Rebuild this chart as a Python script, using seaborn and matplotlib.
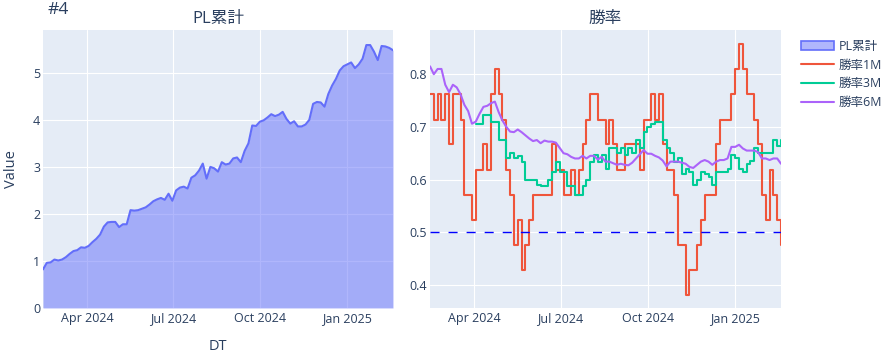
#!/usr/bin/env python3
"""
#4 PL累計 と 勝率 (1M / 3M / 6M) のチャート
"""

import numpy as np
import pandas as pd
import matplotlib
matplotlib.use('Agg')
import matplotlib.pyplot as plt
import matplotlib.dates as mdates
from matplotlib.ticker import MultipleLocator, StrMethodFormatter
from matplotlib.patches import Patch
from matplotlib.lines import Line2D
import seaborn as sns

# 期間 (約4日おきのサンプル)
START_DATE = '2024-02-14'
END_DATE = '2025-02-19'

# PL累計
pl_cum = [
    0.82, 0.96, 0.97, 1.03, 1.01, 1.03, 1.08, 1.15, 1.21, 1.23,
    1.29, 1.28, 1.32, 1.40, 1.47, 1.56, 1.73, 1.82, 1.83, 1.83,
    1.72, 1.78, 1.78, 2.08, 2.07, 2.08, 2.11, 2.14, 2.20, 2.27,
    2.31, 2.34, 2.30, 2.43, 2.28, 2.50, 2.56, 2.58, 2.54, 2.77,
    2.82, 2.92, 3.07, 2.75, 3.00, 2.97, 2.90, 3.10, 3.05, 3.07,
    3.18, 3.20, 3.10, 3.34, 3.50, 3.88, 3.87, 3.96, 3.99, 4.05,
    4.12, 4.08, 4.11, 4.17, 4.02, 3.92, 3.97, 3.86, 3.86, 3.90,
    4.00, 4.34, 4.38, 4.37, 4.28, 4.55, 4.73, 4.87, 5.05, 5.14,
    5.18, 5.22, 5.10, 5.18, 5.30, 5.59, 5.59, 5.45, 5.27, 5.57,
    5.56, 5.53, 5.48,
]

# 勝率1M
win_1m = [
    0.762, 0.714, 0.762, 0.714, 0.762, 0.667, 0.762, 0.762, 0.714, 0.571,
    0.571, 0.524, 0.619, 0.619, 0.667, 0.619, 0.762, 0.810, 0.762, 0.714,
    0.619, 0.571, 0.476, 0.524, 0.429, 0.476, 0.524, 0.571, 0.571, 0.571,
    0.571, 0.571, 0.667, 0.619, 0.619, 0.571, 0.571, 0.619, 0.571, 0.619,
    0.667, 0.714, 0.762, 0.762, 0.714, 0.714, 0.667, 0.714, 0.667, 0.619,
    0.619, 0.667, 0.667, 0.667, 0.667, 0.619, 0.714, 0.714, 0.762, 0.714,
    0.762, 0.667, 0.619, 0.619, 0.571, 0.476, 0.476, 0.381, 0.429, 0.429,
    0.476, 0.524, 0.571, 0.571, 0.571, 0.667, 0.714, 0.714, 0.714, 0.762,
    0.810, 0.857, 0.810, 0.762, 0.762, 0.714, 0.667, 0.571, 0.524, 0.619,
    0.571, 0.524, 0.476,
]

# 勝率3M (最初の3ヶ月は値なし)
win_3m = [np.nan] * 12 + [
    0.706, 0.706, 0.722, 0.722, 0.709, 0.709, 0.675, 0.675,
    0.640, 0.650, 0.640, 0.645, 0.634, 0.600, 0.600, 0.600, 0.590, 0.587,
    0.587, 0.600, 0.615, 0.634, 0.615, 0.615, 0.587, 0.587, 0.571, 0.571,
    0.587, 0.600, 0.634, 0.647, 0.634, 0.647, 0.620, 0.660, 0.660, 0.650,
    0.660, 0.647, 0.660, 0.650, 0.675, 0.660, 0.690, 0.700, 0.705, 0.710,
    0.710, 0.675, 0.660, 0.650, 0.634, 0.640, 0.610, 0.620, 0.615, 0.590,
    0.600, 0.615, 0.610, 0.605, 0.590, 0.615, 0.615, 0.615, 0.620, 0.647,
    0.640, 0.620, 0.615, 0.630, 0.635, 0.660, 0.650, 0.650, 0.650, 0.650,
    0.675, 0.663, 0.675,
]

# 勝率6M
win_6m = [
    0.815, 0.800, 0.810, 0.810, 0.780, 0.766, 0.780, 0.775, 0.762, 0.742,
    0.730, 0.706, 0.710, 0.725, 0.738, 0.740, 0.745, 0.748, 0.728, 0.712,
    0.700, 0.691, 0.690, 0.695, 0.690, 0.684, 0.678, 0.673, 0.675, 0.669,
    0.674, 0.672, 0.672, 0.670, 0.660, 0.650, 0.648, 0.643, 0.640, 0.640,
    0.645, 0.640, 0.645, 0.645, 0.638, 0.643, 0.634, 0.634, 0.631, 0.628,
    0.630, 0.628, 0.627, 0.632, 0.640, 0.648, 0.656, 0.649, 0.649, 0.645,
    0.642, 0.636, 0.625, 0.634, 0.634, 0.634, 0.632, 0.630, 0.624, 0.622,
    0.628, 0.634, 0.637, 0.634, 0.628, 0.634, 0.637, 0.637, 0.640, 0.662,
    0.662, 0.666, 0.659, 0.655, 0.655, 0.655, 0.652, 0.640, 0.640, 0.637,
    0.640, 0.640, 0.630,
]

win_names = ['勝率1M', '勝率3M', '勝率6M']
win_colors = ['#EF553B', '#00CC96', '#AB63FA']
pl_color = '#636EFA'
pl_fill = (99 / 255, 110 / 255, 250 / 255, 0.5)
text_color = '#2a3f5f'

W, H = 894, 360


def build_frames():
    """データフレーム作成"""
    dates = pd.date_range(START_DATE, END_DATE, periods=len(pl_cum))
    pl_df = pd.DataFrame({'DT': dates, 'Value': pl_cum})
    win_df = pd.DataFrame({'DT': dates, win_names[0]: win_1m,
                           win_names[1]: win_3m, win_names[2]: win_6m})
    win_df = win_df.melt(id_vars='DT', var_name='series', value_name='Value')
    return pl_df, win_df


def style_axis(ax):
    """plotly風の軸設定"""
    ax.tick_params(length=0, labelsize=9, labelcolor=text_color)
    ax.tick_params(axis='x', pad=3)
    ax.tick_params(axis='y', pad=2)
    ax.xaxis.set_major_locator(mdates.MonthLocator(bymonth=[1, 4, 7, 10]))
    ax.xaxis.set_major_formatter(mdates.DateFormatter('%b %Y'))
    ax.grid(True, color='white', lw=0.8)
    for s in ax.spines.values():
        s.set_visible(False)


def main():
    pl_df, win_df = build_frames()

    sns.set_theme(style='darkgrid', rc={'axes.facecolor': '#E5ECF6',
                                        'grid.color': 'white'})
    plt.rcParams['font.family'] = ['Open Sans', 'Noto Sans CJK JP', 'DejaVu Sans']

    fig = plt.figure(figsize=(W / 100, H / 100), dpi=100)
    ax1 = fig.add_axes([43 / W, 52 / H, 350 / W, 278 / H])
    ax2 = fig.add_axes([430 / W, 52 / H, 351 / W, 278 / H])

    # 左: PL累計 (面グラフ)
    ax1.fill_between(pl_df['DT'], 0, pl_df['Value'], color=pl_fill, lw=0)
    sns.lineplot(data=pl_df, x='DT', y='Value', color=pl_color, lw=1.5, ax=ax1)
    ax1.set_xlim(pl_df['DT'].iloc[0], pl_df['DT'].iloc[-1])
    ax1.set_ylim(0, 5.91)
    ax1.yaxis.set_major_locator(MultipleLocator(1))
    style_axis(ax1)
    ax1.set_title('PL累計', fontsize=12, color=text_color, pad=5)
    ax1.set_xlabel('DT', fontsize=10.5, color=text_color, labelpad=10)
    ax1.set_ylabel('Value', fontsize=10.5, color=text_color, labelpad=10)

    # 右: 勝率 (1M・3Mは階段状、6Mは折れ線)
    palette = dict(zip(win_names, win_colors))
    stepped = win_df[win_df['series'].isin(win_names[:2])]
    smooth = win_df[win_df['series'] == win_names[2]]
    sns.lineplot(data=stepped, x='DT', y='Value', hue='series',
                 palette=palette, lw=1.5, estimator=None, legend=False,
                 drawstyle='steps-post', ax=ax2)
    sns.lineplot(data=smooth, x='DT', y='Value', color=palette[win_names[2]],
                 lw=1.5, estimator=None, ax=ax2)
    ax2.axhline(0.5, color='blue', lw=1, linestyle=(0, (6.5, 6.5)))
    ax2.set_xlim(pl_df['DT'].iloc[0], pl_df['DT'].iloc[-1])
    ax2.set_ylim(0.356, 0.884)
    ax2.yaxis.set_major_locator(MultipleLocator(0.1))
    ax2.yaxis.set_major_formatter(StrMethodFormatter('{x:.1f}'))
    style_axis(ax2)
    ax2.set_title('勝率', fontsize=12, color=text_color, pad=5)
    ax2.set_xlabel('')
    ax2.set_ylabel('')

    # タイトル
    fig.text(47 / W, 1 - 2 / H, '#4', fontsize=12.5, color=text_color,
             ha='left', va='top')

    # 凡例
    handles = [Patch(facecolor=pl_fill, edgecolor=pl_color, lw=1.2)]
    handles += [Line2D([], [], color=c, lw=1.5) for c in win_colors]
    fig.legend(handles, ['PL累計'] + win_names, loc='upper left',
               bbox_to_anchor=(796 / W, 1 - 35 / H), frameon=False,
               fontsize=9, labelcolor=text_color, handlelength=2.6,
               handletextpad=0.4, labelspacing=0.45, borderaxespad=0)

    fig.savefig('out.png', dpi=100, facecolor='white')


if __name__ == "__main__":
    main()
